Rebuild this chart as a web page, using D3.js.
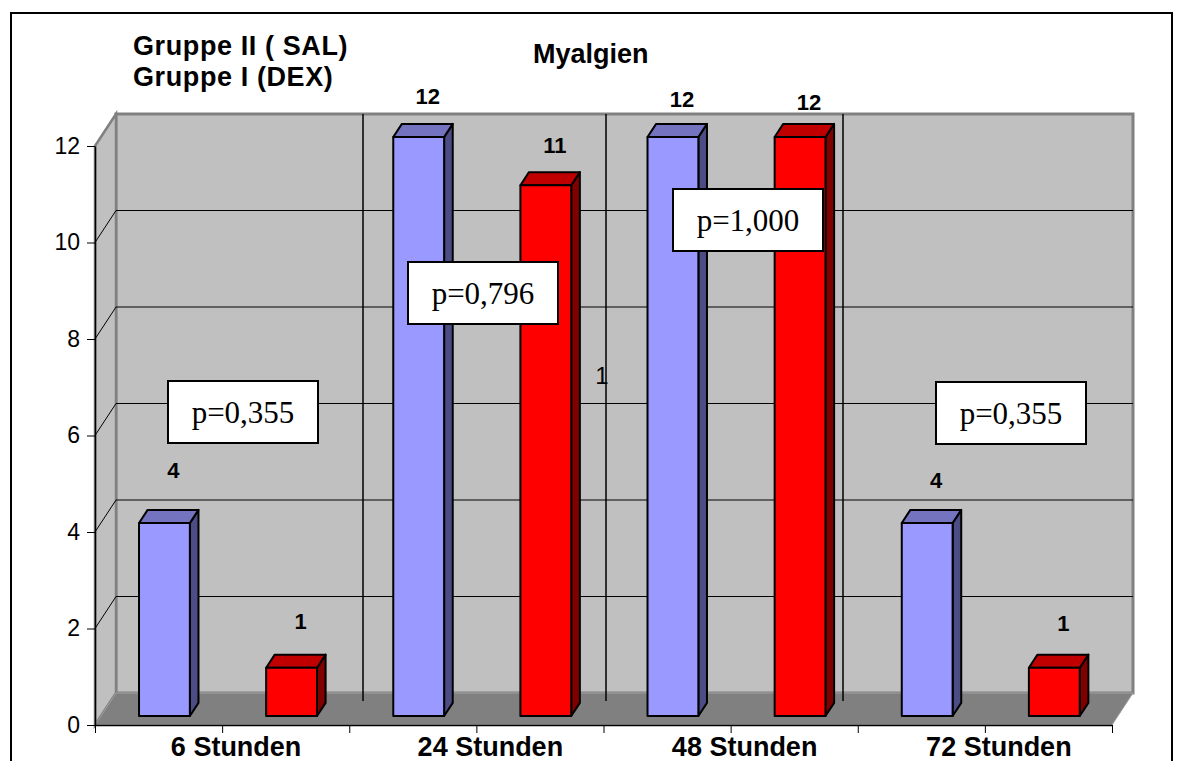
<!DOCTYPE html>
<html>
<head>
<meta charset="utf-8">
<script src="https://cdn.jsdelivr.net/npm/d3@7"></script>
<style>
  html, body { margin: 0; padding: 0; background: #fff; }
  svg { display: block; }
</style>
</head>
<body>
<svg id="chart" width="1178" height="761"></svg>
<script>
// ---- data ----
const categories = ["6 Stunden", "24 Stunden", "48 Stunden", "72 Stunden"];
const seriesNames = ["Gruppe II ( SAL)", "Gruppe I (DEX)"];
const salValues = [4, 12, 12, 4];
const dexValues = [1, 11, 12, 1];
const pLabels = ["p=0,355", "p=0,796", "p=1,000", "p=0,355"];
const yTicks = [0, 2, 4, 6, 8, 10, 12];
const chartTitle = "Myalgien";

// ---- layout ----
const W = 1178, H = 761;
const plot = { left: 95, right: 1112, bottom: 725, top: 146 };
const depth = { dx: 21, dy: 32 };          // wall depth of the 3D box
const barFront = 0.28, barBack = 0.69;      // bar slab position inside the depth
const pBoxes = [[168, 381], [408, 262], [673, 189], [936, 382]];
const pBoxSize = [150, 62];
const labelLift = [[45, 39], [33, 32], [30, 27], [35, 37]];
const separatorsX = [363, 606, 843];

const colors = {
  sal: { front: "#9999FF", top: "#7373C0", side: "#4D4D85" },
  dex: { front: "#FF0000", top: "#C00000", side: "#800000" },
  wall: "#C0C0C0", wallEdge: "#808080", floor: "#808080"
};

const svg = d3.select("#chart");

const x = d3.scaleBand().domain(categories).range([plot.left, plot.right]).padding(0);
const xSub = d3.scaleBand().domain(seriesNames).range([0, x.bandwidth()])
  .paddingInner(0.6).paddingOuter(0.3);
const y = d3.scaleLinear().domain([0, 12]).range([plot.bottom, plot.top]);
const xHalf = d3.scaleLinear().domain([0, categories.length]).range([plot.left, plot.right]);

const off = t => [depth.dx * t, -depth.dy * t];
const pts = arr => arr.map(p => p.join(",")).join(" ");

// outer frame
svg.append("rect").attr("x", 11).attr("y", 13).attr("width", 1161).attr("height", 800)
  .attr("fill", "#fff").attr("stroke", "#000").attr("stroke-width", 2);

const [bdx, bdy] = off(1);
// back wall
svg.append("rect")
  .attr("x", plot.left + bdx).attr("y", y(12) + bdy)
  .attr("width", plot.right - plot.left).attr("height", y(0) - y(12))
  .attr("fill", colors.wall).attr("stroke", colors.wallEdge).attr("stroke-width", 3);
// side wall
svg.append("polygon")
  .attr("points", pts([[plot.left, y(12)], [plot.left + bdx, y(12) + bdy],
    [plot.left + bdx, y(0) + bdy], [plot.left, y(0)]]))
  .attr("fill", colors.wall).attr("stroke", colors.wallEdge).attr("stroke-width", 2.5);
// floor
svg.append("polygon")
  .attr("points", pts([[plot.left, y(0)], [plot.right, y(0)],
    [plot.right + bdx, y(0) + bdy], [plot.left + bdx, y(0) + bdy]]))
  .attr("fill", colors.floor).attr("stroke", "#a0a0a0").attr("stroke-width", 1);

// gridlines on back and side walls
const grid = svg.append("g").attr("stroke", "#000").attr("stroke-width", 1);
yTicks.filter(v => v > 0 && v < 12).forEach(v => {
  grid.append("line").attr("x1", plot.left + bdx).attr("x2", plot.right + bdx)
    .attr("y1", y(v) + bdy).attr("y2", y(v) + bdy);
  grid.append("line").attr("x1", plot.left).attr("x2", plot.left + bdx)
    .attr("y1", y(v)).attr("y2", y(v) + bdy);
});

// separator lines between the time points
svg.append("g").selectAll("line").data(separatorsX).join("line")
  .attr("x1", d => d).attr("x2", d => d)
  .attr("y1", y(12) + bdy).attr("y2", y(0) + bdy + 8)
  .attr("stroke", "#000").attr("stroke-width", 1.5);

// stray label
svg.append("text").attr("x", 602).attr("y", 384).attr("text-anchor", "middle")
  .attr("font-family", "Liberation Sans, Arial, sans-serif").attr("font-size", 24)
  .text("1");

// bars
const rows = [];
categories.forEach((c, i) => {
  rows.push({ cat: c, i, s: seriesNames[0], v: salValues[i], col: colors.sal, k: 0 });
  rows.push({ cat: c, i, s: seriesNames[1], v: dexValues[i], col: colors.dex, k: 1 });
});
const [fdx, fdy] = off(barFront);
const bd = [depth.dx * (barBack - barFront), -depth.dy * (barBack - barFront)];
const bars = svg.append("g").selectAll("g").data(rows).join("g")
  .attr("stroke", "#000").attr("stroke-width", 2).attr("stroke-linejoin", "round");
bars.each(function (d) {
  const g = d3.select(this);
  const x0 = x(d.cat) + xSub(d.s) + fdx, x1 = x0 + xSub.bandwidth();
  const yt = y(d.v) + fdy, yb = y(0) + fdy;
  g.append("polygon").attr("fill", d.col.side)
    .attr("points", pts([[x1, yt], [x1 + bd[0], yt + bd[1]], [x1 + bd[0], yb + bd[1]], [x1, yb]]));
  g.append("polygon").attr("fill", d.col.top)
    .attr("points", pts([[x0, yt], [x0 + bd[0], yt + bd[1]], [x1 + bd[0], yt + bd[1]], [x1, yt]]));
  g.append("rect").attr("fill", d.col.front)
    .attr("x", x0).attr("y", yt).attr("width", x1 - x0).attr("height", yb - yt);
});

// value labels
svg.append("g").selectAll("text").data(rows).join("text")
  .attr("x", d => x(d.cat) + xSub(d.s) + fdx + xSub.bandwidth() / 2 + 9)
  .attr("y", d => y(d.v) + fdy - labelLift[d.i][d.k])
  .attr("text-anchor", "middle")
  .attr("font-family", "Liberation Sans, Arial, sans-serif")
  .attr("font-size", 22).attr("font-weight", "bold")
  .text(d => d.v);

// p-value boxes
const pg = svg.append("g").selectAll("g").data(pLabels).join("g")
  .attr("transform", (d, i) => `translate(${pBoxes[i][0]},${pBoxes[i][1]})`);
pg.append("rect").attr("width", pBoxSize[0]).attr("height", pBoxSize[1])
  .attr("fill", "#fff").attr("stroke", "#000").attr("stroke-width", 2);
pg.append("text").attr("x", pBoxSize[0] / 2).attr("y", pBoxSize[1] / 2 + 11)
  .attr("text-anchor", "middle")
  .attr("font-family", "Liberation Serif, Times New Roman, serif").attr("font-size", 31)
  .text(d => d);

// y axis
const yAxis = svg.append("g").attr("transform", `translate(${plot.left},0)`)
  .call(d3.axisLeft(y).tickValues(yTicks).tickSize(8).tickPadding(7).tickSizeOuter(0));
yAxis.select(".domain").attr("stroke", "#000").attr("stroke-width", 1.5);
yAxis.selectAll("text").attr("font-family", "Liberation Sans, Arial, sans-serif")
  .attr("font-size", 23).attr("fill", "#000");

// x axis with ticks between the bars
const xAxis = svg.append("g").attr("transform", `translate(0,${plot.bottom})`)
  .call(d3.axisBottom(xHalf).tickValues(d3.range(0, categories.length + 0.5, 0.5))
    .tickSize(8).tickFormat("").tickSizeOuter(0));
xAxis.select(".domain").attr("stroke", "#000").attr("stroke-width", 1.5);

svg.append("g").selectAll("text").data(categories).join("text")
  .attr("x", d => x(d) + x.bandwidth() / 2 + 14).attr("y", 756)
  .attr("text-anchor", "middle")
  .attr("font-family", "Liberation Sans, Arial, sans-serif")
  .attr("font-size", 27).attr("font-weight", "bold")
  .text(d => d);

// series names and title
svg.append("g").selectAll("text").data(seriesNames).join("text")
  .attr("x", 133).attr("y", (d, i) => 55 + i * 31)
  .attr("font-family", "Liberation Sans, Arial, sans-serif")
  .attr("font-size", 27).attr("font-weight", "bold")
  .attr("letter-spacing", 0.6)
  .text(d => d);
svg.append("text").attr("x", 533).attr("y", 63)
  .attr("font-family", "Liberation Sans, Arial, sans-serif")
  .attr("font-size", 27).attr("font-weight", "bold")
  .text(chartTitle);
</script>
</body>
</html>
